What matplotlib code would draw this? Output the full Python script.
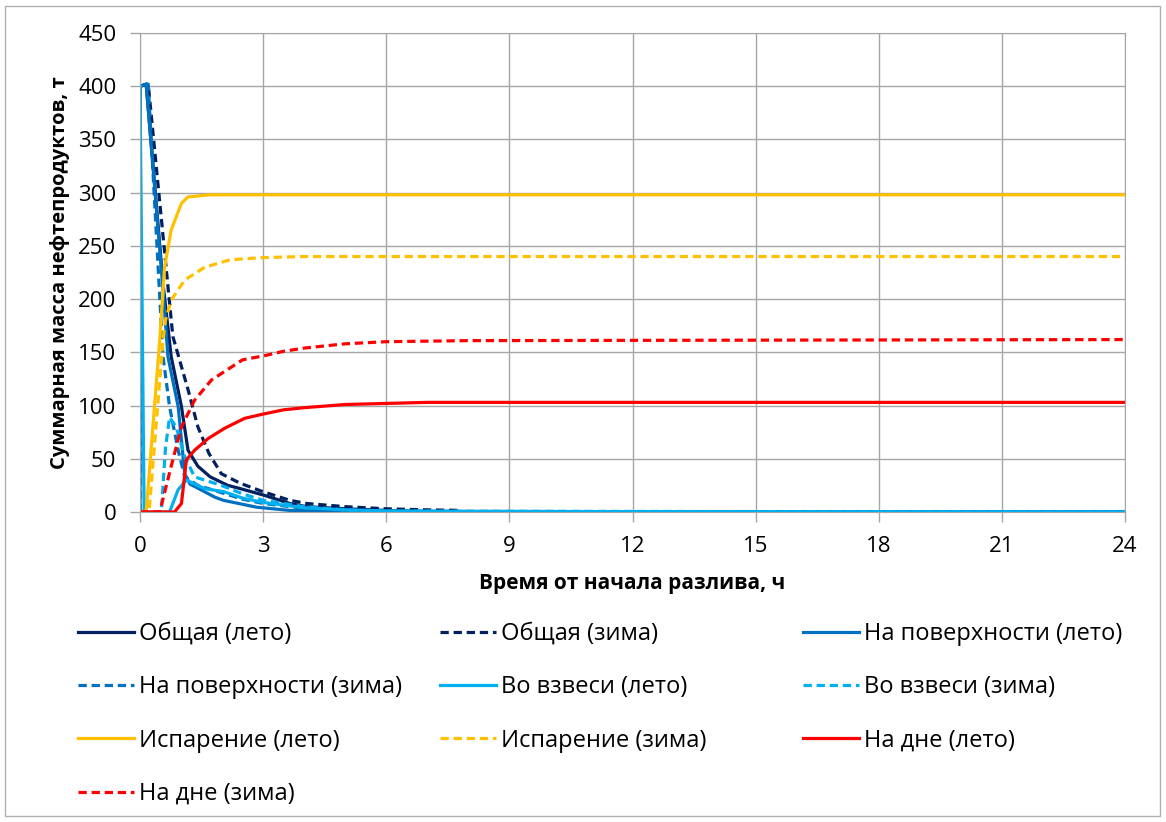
import matplotlib
matplotlib.use("Agg")
import matplotlib.pyplot as plt
from matplotlib.patches import Rectangle

plt.rcParams['font.family'] = ['Open Sans', 'DejaVu Sans']

# --- data (time, h / mass, t) ---
t_total_s = [0, 0.15, 0.56, 0.76, 1.01, 1.17, 1.41, 1.71, 2.14, 2.44, 3.0, 3.65, 4.06, 5.0, 6.0, 7.0, 24]
v_total_s = [400, 402, 215, 146, 99, 58, 43, 33, 25, 22, 16, 8, 5, 3, 1.5, 0.5, 0]

t_total_w = [0, 0.2, 0.8, 1.17, 1.41, 1.68, 1.98, 2.44, 3.0, 3.65, 4.06, 5.0, 6.0, 7.0, 7.8]
v_total_w = [400, 402, 165, 115, 80, 55, 36, 27, 19, 11, 8, 5, 3, 2, 1.5]

t_surf_s = [0, 0.01, 0.15, 0.56, 0.68, 0.93, 1.09, 1.22, 1.33, 1.82, 2.03, 2.84, 3.65, 5.0, 6.0, 24]
v_surf_s = [0, 400, 402, 210, 146, 99, 36, 26, 24, 14, 11, 4.5, 1.5, 0.5, 0.2, 0]

t_surf_w = [0, 0.01, 0.2, 0.56, 0.72, 0.93, 1.09, 1.41, 2.0, 2.5, 3.0, 4.0, 5.0, 6.0, 24]
v_surf_w = [0, 400, 402, 146, 99, 58, 33, 25, 18, 12, 8, 3.5, 1.5, 0.5, 0]

t_susp_s = [0, 0.1, 0.72, 0.93, 1.13, 1.57, 2.05, 2.5, 3.0, 4.0, 5.0, 6.0, 8.0, 15.6, 24]
v_susp_s = [400, 0, 0, 21, 30, 22, 19, 13, 9, 4, 2, 1, 0.5, 0.2, 0]

t_susp_w = [0, 0.52, 0.62, 0.72, 0.88, 1.09, 1.33, 1.98, 2.5, 3.0, 4.0, 5.0, 6.0, 24]
v_susp_w = [0, 0, 60, 89, 80, 52, 33, 25, 17, 11, 5, 2, 0.8, 0]

t_evap_s = [0, 0.15, 0.48, 0.60, 0.76, 1.01, 1.17, 1.7, 24]
v_evap_s = [0, 0, 161, 230, 265, 290, 296, 298, 298]

t_evap_w = [0, 0.22, 0.56, 0.62, 0.76, 1.09, 1.58, 2.2, 3.0, 4.0, 24]
v_evap_w = [0, 0, 161, 180, 199, 218, 230, 237, 239, 240, 240]

t_bot_s = [0, 0.84, 1.01, 1.13, 1.33, 1.66, 2.06, 2.55, 3.0, 3.5, 4.0, 5.0, 6.0, 7.0, 24]
v_bot_s = [0, 0, 8, 49, 58, 69, 78.6, 88, 92, 96, 98, 101, 102, 103, 103]

t_bot_w = [0, 0.48, 0.76, 1.01, 1.33, 1.74, 2.1, 2.5, 3.05, 3.5, 4.0, 5.0, 6.0, 8.0, 24]
v_bot_w = [0, 0, 43, 80, 105, 124, 133, 143, 147, 151, 154, 158, 160, 161, 162]

labels = ['Общая (лето)', 'Общая (зима)', 'На поверхности (лето)',
          'На поверхности (зима)', 'Во взвеси (лето)', 'Во взвеси (зима)',
          'Испарение (лето)', 'Испарение (зима)', 'На дне (лето)', 'На дне (зима)']
x_ticks = [0, 3, 6, 9, 12, 15, 18, 21, 24]
y_ticks = [0, 50, 100, 150, 200, 250, 300, 350, 400, 450]

navy = '#002060'
blue = '#0070c0'
cyan = '#00b0f0'
gold = '#ffc000'
red = '#ff0000'
dash = (0, (2.6, 1.5))

series = [
    (t_total_s, v_total_s, navy, '-'),
    (t_total_w, v_total_w, navy, dash),
    (t_surf_s, v_surf_s, blue, '-'),
    (t_surf_w, v_surf_w, blue, dash),
    (t_susp_s, v_susp_s, cyan, '-'),
    (t_susp_w, v_susp_w, cyan, dash),
    (t_evap_s, v_evap_s, gold, '-'),
    (t_evap_w, v_evap_w, gold, dash),
    (t_bot_s, v_bot_s, red, '-'),
    (t_bot_w, v_bot_w, red, dash),
]

fig = plt.figure(figsize=(11.66, 8.22), dpi=100)
ax = fig.add_axes([140/1166, 1 - 512/822, 985/1166, 479/822])

lines = []
for (t, v, c, ls), lab in zip(series, labels):
    ln, = ax.plot(t, v, color=c, linestyle=ls, lw=2.3, label=lab)
    lines.append(ln)

ax.set_xlim(0, 24)
ax.set_ylim(0, 450)
ax.set_xticks(x_ticks)
ax.set_yticks(y_ticks)
ax.grid(True, color='#a6a6a6', lw=1)
ax.set_axisbelow(True)
for s in ax.spines.values():
    s.set_color('#a6a6a6')
ax.tick_params(axis='both', colors='#a6a6a6', labelcolor='black', labelsize=16,
               length=7, width=1, pad=10)

ax.set_xlabel('Время от начала разлива, ч', fontsize=15, fontweight='bold', labelpad=12)
ax.set_ylabel('Суммарная масса нефтепродуктов, т', fontsize=14.5, fontweight='bold', labelpad=6)

# legend: three columns placed separately, row-major order as in the original
col_x = [78/1166, 440/1166, 803/1166]
for i, x in enumerate(col_x):
    h = lines[i::3]
    fig.legend(handles=h, labels=[l.get_label() for l in h],
               loc='upper left', bbox_to_anchor=(x, 1 - 622/822),
               frameon=False, fontsize=17, handlelength=2.37, handletextpad=0.22,
               labelspacing=1.24, borderpad=0, borderaxespad=0)

fig.patches.append(Rectangle((5/1166, 6/822), 1155/1166, 810/822, transform=fig.transFigure,
                             fill=False, edgecolor='#b0b0b0', lw=1))

fig.savefig('out.png', dpi=100)
